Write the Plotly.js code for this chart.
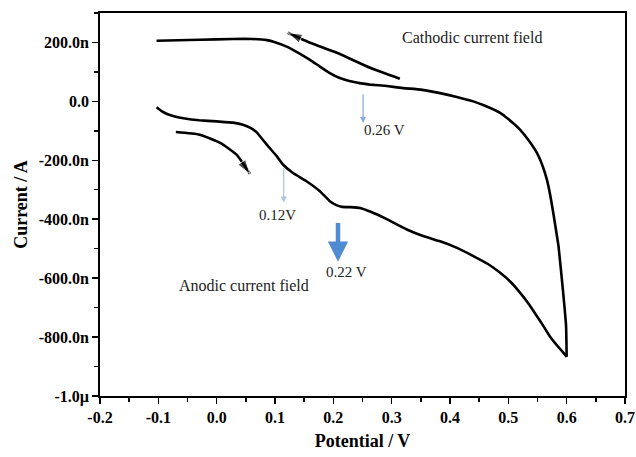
<!DOCTYPE html>
<html>
<head>
<meta charset="utf-8">
<script src="https://cdn.plot.ly/plotly-3.0.1.min.js"></script>
<style>html,body{margin:0;padding:0;background:#fff;}#chart{width:636px;height:457px;}</style>
</head>
<body>
<div id="chart"></div>
<script>
// Potential (V) and current (nA) along the anodic (lower) branch, -0.1 V -> 0.6 V
var forwardPotential = [-0.103,-0.095,-0.085,-0.07,-0.057,-0.03,0.0,0.028,0.045,0.058,0.069,0.086,0.103,0.114,0.131,0.154,0.177,0.194,0.205,0.215,0.229,0.246,0.263,0.29,0.326,0.355,0.383,0.413,0.44,0.465,0.486,0.504,0.52,0.536,0.549,0.56,0.571,0.585,0.6];
var forwardCurrent   = [-20,-32,-43,-52,-57,-64,-68,-72,-79,-90,-106,-147,-186,-215,-243,-271,-305,-339,-352,-358,-359,-362,-374,-398,-435,-458,-475,-498,-525,-552,-582,-613,-649,-690,-729,-762,-797,-832,-866];
// Return (upper) branch, 0.6 V -> -0.1 V
var reversePotential = [0.6,0.599,0.594,0.586,0.577,0.572,0.566,0.558,0.549,0.535,0.52,0.5,0.486,0.46,0.44,0.41,0.383,0.35,0.32,0.292,0.263,0.245,0.229,0.21,0.194,0.177,0.16,0.14,0.12,0.1,0.086,0.06,0.028,-0.029,-0.103];
var reverseCurrent   = [-866,-763,-649,-491,-378,-320,-265,-215,-175,-133,-96,-60,-39,-15,0,16,28,40,45,52,57,62,68,80,96,118,141,165,186,201,208,212,212,209,206];
// Direction arrows (curved)
var cathArrowX = [0.314,0.263,0.206,0.16,0.122];
var cathArrowY = [77,114,165,199,233];
var anodArrowX = [-0.07,-0.029,0.006,0.034,0.057];
var anodArrowY = [-104,-113,-141,-181,-246];
// Peak markers
var peakLabels = ['0.12V','0.22 V','0.26 V'];
var peakArrowX = [0.115,0.208,0.251];
var peakArrowTop = [-220,-408,29];
var peakArrowTip = [-343,-544,-73];
var peakLabelX = [0.105,0.223,0.287];
var peakLabelY = [-385,-580,-96];
// Field labels
var fieldLabels = ['Cathodic current field','Anodic current field'];
var fieldLabelX = [0.438,0.047];
var fieldLabelY = [216,-625];
// Axis ticks
var xTickVals = [-0.2,-0.1,0.0,0.1,0.2,0.3,0.4,0.5,0.6,0.7];
var xTickText = ['-0.2','-0.1','0.0','0.1','0.2','0.3','0.4','0.5','0.6','0.7'];
var yTickVals = [-1000,-800,-600,-400,-200,0,200];
var yTickText = ['-1.0\u00b5','-800.0n','-600.0n','-400.0n','-200.0n','0.0','200.0n'];

var serif = 'Liberation Serif, Times New Roman, serif';
function bold(arr){ return arr.map(function(t){ return '<b>' + t + '</b>'; }); }
function arrowSizes(n){ var s=[]; for(var i=0;i<n;i++){ s.push(i===n-1?15:0);} return s; }

var traces = [
  {x: forwardPotential.concat(reversePotential), y: forwardCurrent.concat(reverseCurrent), mode:'lines', line:{color:'#000', width:2.6, shape:'spline', smoothing:0.3}, hoverinfo:'skip'},
  {x: cathArrowX, y: cathArrowY, mode:'lines+markers', line:{color:'#000', width:2.6, shape:'spline', smoothing:0.5}, marker:{symbol:'arrow', angleref:'previous', size:arrowSizes(cathArrowX.length), color:'#000'}, hoverinfo:'skip'},
  {x: anodArrowX, y: anodArrowY, mode:'lines+markers', line:{color:'#000', width:2.6, shape:'spline', smoothing:0.5}, marker:{symbol:'arrow', angleref:'previous', size:arrowSizes(anodArrowX.length), color:'#000'}, hoverinfo:'skip'}
];

var annotations = [];
var peakStyle = [
  {color:'#a9c3e3', width:1.2, size:1.0, head:2},
  {color:'#4f8bd0', width:4.5, size:0.9, head:2},
  {color:'#86abdc', width:1.2, size:1.0, head:2}
];
for (var i=0;i<peakLabels.length;i++){
  annotations.push({x:peakArrowX[i], y:peakArrowTip[i], ax:peakArrowX[i], ay:peakArrowTop[i], axref:'x', ayref:'y', xref:'x', yref:'y', text:'', showarrow:true, arrowcolor:peakStyle[i].color, arrowwidth:peakStyle[i].width, arrowsize:peakStyle[i].size, arrowhead:peakStyle[i].head});
  annotations.push({x:peakLabelX[i], y:peakLabelY[i], xref:'x', yref:'y', text:peakLabels[i], showarrow:false, font:{family:serif, size:15, color:'#222'}});
}
for (var j=0;j<fieldLabels.length;j++){
  annotations.push({x:fieldLabelX[j], y:fieldLabelY[j], xref:'x', yref:'y', text:fieldLabels[j], showarrow:false, font:{family:serif, size:16, color:'#222'}});
}

var axisCommon = {showgrid:false, zeroline:false, showline:true, linecolor:'#000', linewidth:1.8, mirror:true, ticks:'outside', ticklen:6, tickwidth:1.6, tickcolor:'#000', tickfont:{family:serif, size:16, color:'#000'}};

var layout = {
  width:636, height:457,
  margin:{l:100, r:11, t:13, b:61},
  paper_bgcolor:'#fff', plot_bgcolor:'#fff',
  showlegend:false,
  xaxis: Object.assign({}, axisCommon, {range:[-0.2,0.7], tickmode:'array', tickvals:xTickVals, ticktext:bold(xTickText), minor:{ticks:'outside', ticklen:4, tickwidth:1.4, tickcolor:'#000', dtick:0.05, tick0:-0.2}, title:{text:'<b>Potential / V</b>', font:{family:serif, size:18, color:'#000'}, standoff:9}}),
  yaxis: Object.assign({}, axisCommon, {range:[-1000,300], tickmode:'array', tickvals:yTickVals, ticktext:bold(yTickText), minor:{ticks:'outside', ticklen:4, tickwidth:1.4, tickcolor:'#000', dtick:100, tick0:0}, title:{text:'<b>Current / A</b>', font:{family:serif, size:18, color:'#000'}, standoff:6}}),
  annotations: annotations
};

Plotly.newPlot('chart', traces, layout, {staticPlot:true, displayModeBar:false});
</script>
</body>
</html>
